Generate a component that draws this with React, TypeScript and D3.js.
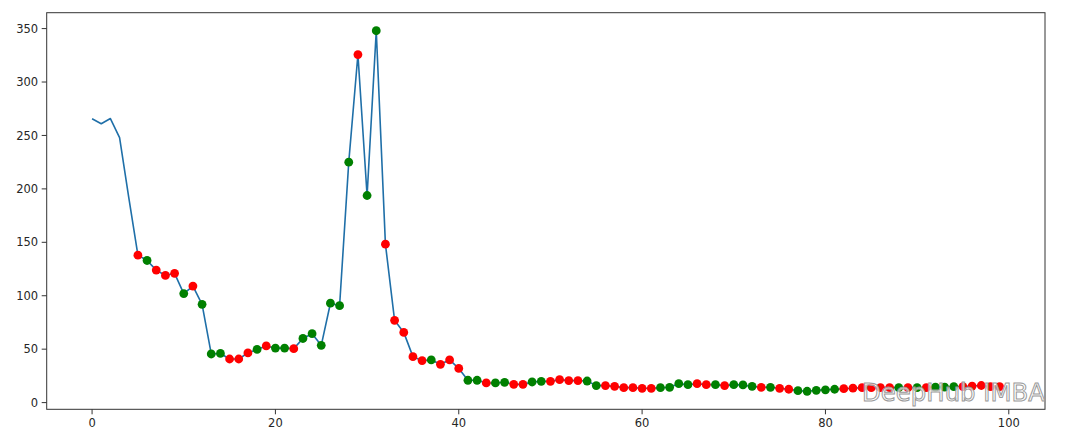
import React from 'react';
import * as d3 from 'd3';

// series values, index 0..99
const values: number[] = [
  265.6, 261, 265.8, 248, 192, 138, 133, 124, 119, 121,
  102, 109, 92, 45.5, 46, 40.8, 40.8, 46.5, 49.8, 53,
  51, 51, 50.5, 60, 64.5, 53.6, 93, 90.7, 225, 325.7,
  193.8, 348, 148.3, 77, 65.7, 43, 39.3, 39.9, 35.8, 39.9,
  32, 20.9, 20.9, 18.4, 18.4, 19, 17.1, 17.1, 19.3, 19.9,
  19.9, 21.5, 20.6, 20.6, 20.2, 15.9, 15.9, 15.2, 14, 14,
  13.4, 13.4, 14, 14.3, 17.7, 16.8, 17.7, 16.8, 16.8, 15.9,
  16.8, 16.5, 15.2, 14.3, 14.3, 13.4, 12.5, 11.2, 10.6, 11.5,
  12, 12.5, 13, 13.5, 14, 14, 14, 14, 14, 14,
  14, 14, 14.5, 14.5, 15, 15, 15.5, 16, 15, 15,
];

// marker signal per index (first five have none): r = red, g = green
const signals: string[] = [
  '', '', '', '', '', 'r', 'g', 'r', 'r', 'r',
  'g', 'r', 'g', 'g', 'g', 'r', 'r', 'r', 'g', 'r',
  'g', 'g', 'r', 'g', 'g', 'g', 'g', 'g', 'g', 'r',
  'g', 'g', 'r', 'r', 'r', 'r', 'r', 'g', 'r', 'r',
  'r', 'g', 'g', 'r', 'g', 'g', 'r', 'r', 'g', 'g',
  'r', 'r', 'r', 'r', 'g', 'g', 'r', 'r', 'r', 'r',
  'r', 'r', 'g', 'g', 'g', 'g', 'r', 'r', 'g', 'r',
  'g', 'g', 'g', 'r', 'g', 'r', 'r', 'g', 'g', 'g',
  'g', 'g', 'r', 'r', 'r', 'r', 'r', 'r', 'g', 'r',
  'g', 'r', 'g', 'g', 'g', 'r', 'r', 'r', 'r', 'r',
];

const xTicks = [0, 20, 40, 60, 80, 100];
const yTicks = [0, 50, 100, 150, 200, 250, 300, 350];

const W = 1080;
const H = 441;
const frame = { left: 46.7, right: 1045, top: 12.7, bottom: 409.3 };

export default function App() {
  const n = values.length;
  const xPad = (n - 1) * 0.05;
  const x = d3.scaleLinear().domain([-xPad, n - 1 + xPad]).range([frame.left, frame.right]);
  const [lo, hi] = d3.extent(values) as [number, number];
  const yPad = (hi - lo) * 0.05;
  const y = d3.scaleLinear().domain([lo - yPad, hi + yPad]).range([frame.bottom, frame.top]);

  const line = d3.line<number>()
    .x((_, i) => x(i))
    .y((d) => y(d));

  const font = '"DejaVu Sans", sans-serif';
  const textColor = '#262626';

  return (
    <svg width={W} height={H} style={{ position: 'absolute', left: 0, top: 0, background: '#fff' }}>
      <path d={line(values) ?? ''} fill="none" stroke="#1f6fa8" strokeWidth={1.6} strokeLinejoin="round" />
      {values.map((v, i) =>
        signals[i] ? (
          <circle key={i} cx={x(i)} cy={y(v)} r={4.4}
            fill={signals[i] === 'r' ? '#ff0000' : '#008000'} />
        ) : null
      )}
      <rect x={frame.left} y={frame.top} width={frame.right - frame.left} height={frame.bottom - frame.top}
        fill="none" stroke="#333" strokeWidth={1} />
      {yTicks.map((t) => (
        <g key={t} transform={`translate(0,${y(t)})`}>
          <line x1={frame.left - 5} x2={frame.left} stroke="#333" strokeWidth={1} />
          <text x={frame.left - 8.5} dy="0.36em" textAnchor="end" fontSize={11.5}
            fontFamily={font} fill={textColor}>{t}</text>
        </g>
      ))}
      {xTicks.map((t) => (
        <g key={t} transform={`translate(${x(t)},0)`}>
          <line y1={frame.bottom} y2={frame.bottom + 5} stroke="#333" strokeWidth={1} />
          <text y={frame.bottom + 18} textAnchor="middle" fontSize={11.5}
            fontFamily={font} fill={textColor}>{t}</text>
        </g>
      ))}
      <text x={862} y={401} fontSize={25} fontFamily={font} fill="#fff" fillOpacity={0.7}
        stroke="#999" strokeWidth={1} textLength={183} lengthAdjust="spacingAndGlyphs">DeepHub IMBA</text>
    </svg>
  );
}
